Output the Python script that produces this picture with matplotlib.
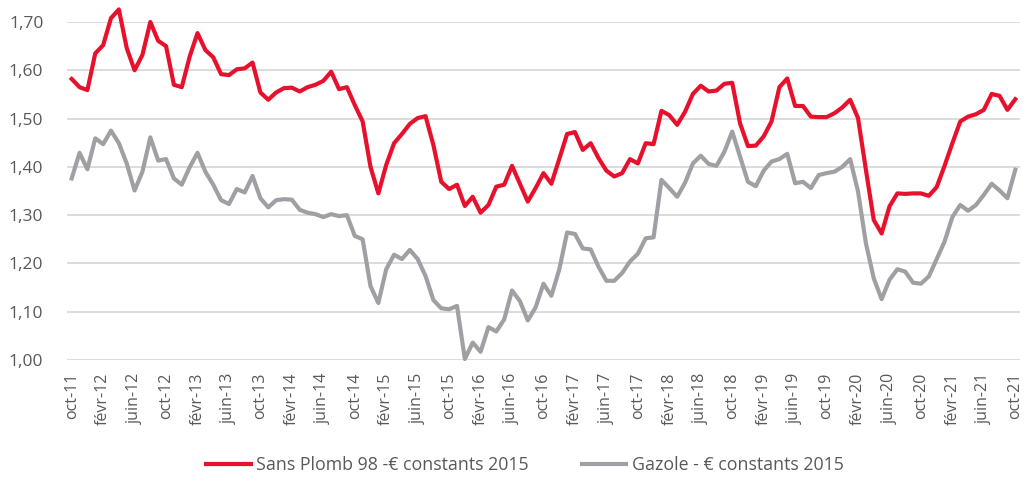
import matplotlib

matplotlib.use("Agg")
import matplotlib.pyplot as plt

plt.rcParams["font.family"] = ["Open Sans", "DejaVu Sans"]

# monthly, oct-11 .. oct-21
sp98 = [
    1.582, 1.565, 1.559, 1.635, 1.652, 1.708, 1.726, 1.646, 1.600, 1.632,
    1.700, 1.661, 1.650, 1.570, 1.565, 1.628, 1.677, 1.642, 1.627, 1.592,
    1.590, 1.602, 1.604, 1.616, 1.554, 1.539, 1.554, 1.563, 1.564, 1.556,
    1.565, 1.570, 1.578, 1.597, 1.561, 1.565, 1.528, 1.494, 1.400, 1.345,
    1.404, 1.449, 1.468, 1.489, 1.501, 1.505, 1.445, 1.369, 1.354, 1.363,
    1.319, 1.338, 1.305, 1.321, 1.359, 1.363, 1.402, 1.365, 1.328, 1.356,
    1.387, 1.365, 1.416, 1.468, 1.472, 1.435, 1.449, 1.418, 1.392, 1.380,
    1.387, 1.416, 1.407, 1.449, 1.447, 1.516, 1.507, 1.487, 1.514, 1.551,
    1.568, 1.556, 1.558, 1.572, 1.574, 1.490, 1.443, 1.444, 1.463, 1.494,
    1.565, 1.583, 1.526, 1.526, 1.504, 1.503, 1.503, 1.511, 1.523, 1.539,
    1.501, 1.394, 1.290, 1.262, 1.318, 1.345, 1.344, 1.345, 1.345, 1.340,
    1.358, 1.402, 1.449, 1.494, 1.504, 1.509, 1.518, 1.551, 1.547, 1.518,
    1.540,
]
gazole = [
    1.376, 1.429, 1.395, 1.459, 1.447, 1.475, 1.449, 1.407, 1.351, 1.390,
    1.461, 1.413, 1.416, 1.376, 1.363, 1.399, 1.429, 1.390, 1.363, 1.331,
    1.323, 1.354, 1.347, 1.381, 1.335, 1.316, 1.331, 1.333, 1.332, 1.311,
    1.305, 1.302, 1.296, 1.302, 1.298, 1.300, 1.257, 1.250, 1.153, 1.118,
    1.188, 1.218, 1.209, 1.228, 1.209, 1.174, 1.124, 1.107, 1.105, 1.112,
    1.002, 1.036, 1.017, 1.068, 1.059, 1.084, 1.144, 1.122, 1.082, 1.109,
    1.158, 1.133, 1.187, 1.264, 1.261, 1.231, 1.229, 1.193, 1.164, 1.164,
    1.180, 1.204, 1.220, 1.252, 1.254, 1.373, 1.356, 1.338, 1.367, 1.407,
    1.423, 1.406, 1.402, 1.431, 1.473, 1.421, 1.369, 1.360, 1.392, 1.411,
    1.416, 1.427, 1.366, 1.369, 1.356, 1.383, 1.387, 1.390, 1.400, 1.416,
    1.349, 1.242, 1.169, 1.126, 1.166, 1.188, 1.183, 1.160, 1.158, 1.173,
    1.209, 1.245, 1.296, 1.321, 1.309, 1.321, 1.342, 1.365, 1.351, 1.335,
    1.394,
]

tick_labels = ["oct-11"] + [f"{m}-{yr}" for yr in range(12, 22) for m in ["févr", "juin", "oct"]]
y_ticks = [1.00, 1.10, 1.20, 1.30, 1.40, 1.50, 1.60, 1.70]

fig = plt.figure(figsize=(10.27, 4.78), dpi=100)
ax = fig.add_axes([0.0652, 0.2469, 0.928, 0.7071])

x = list(range(len(sp98)))
ax.plot(x, sp98, color="#E8112D", lw=3, label="Sans Plomb 98 -€ constants 2015", clip_on=False)
ax.plot(x, gazole, color="#A0A0A4", lw=3, label="Gazole - € constants 2015", clip_on=False)

ax.set_xlim(-0.6, 120.6)
ax.set_ylim(1.0, 1.7)
ax.set_yticks(y_ticks)
ax.set_yticklabels([f"{v:.2f}".replace(".", ",") for v in y_ticks])
ax.set_xticks(range(0, 121, 4))
ax.set_xticklabels(tick_labels, rotation=90)

ax.grid(axis="y", color="#D9D9D9", lw=1.3)
ax.set_axisbelow(True)
for s in ax.spines.values():
    s.set_visible(False)
ax.tick_params(length=0, colors="#595959")
ax.tick_params(axis="x", pad=9, labelsize=11.5)
ax.tick_params(axis="y", pad=17, labelsize=12.5)

fig.legend(loc="center", bbox_to_anchor=(0.511, 0.027), ncol=2, frameon=False,
           fontsize=12.8, handlelength=2.5, columnspacing=3, handletextpad=0.3,
           labelcolor="#595959")

fig.savefig("out.png", dpi=100)
